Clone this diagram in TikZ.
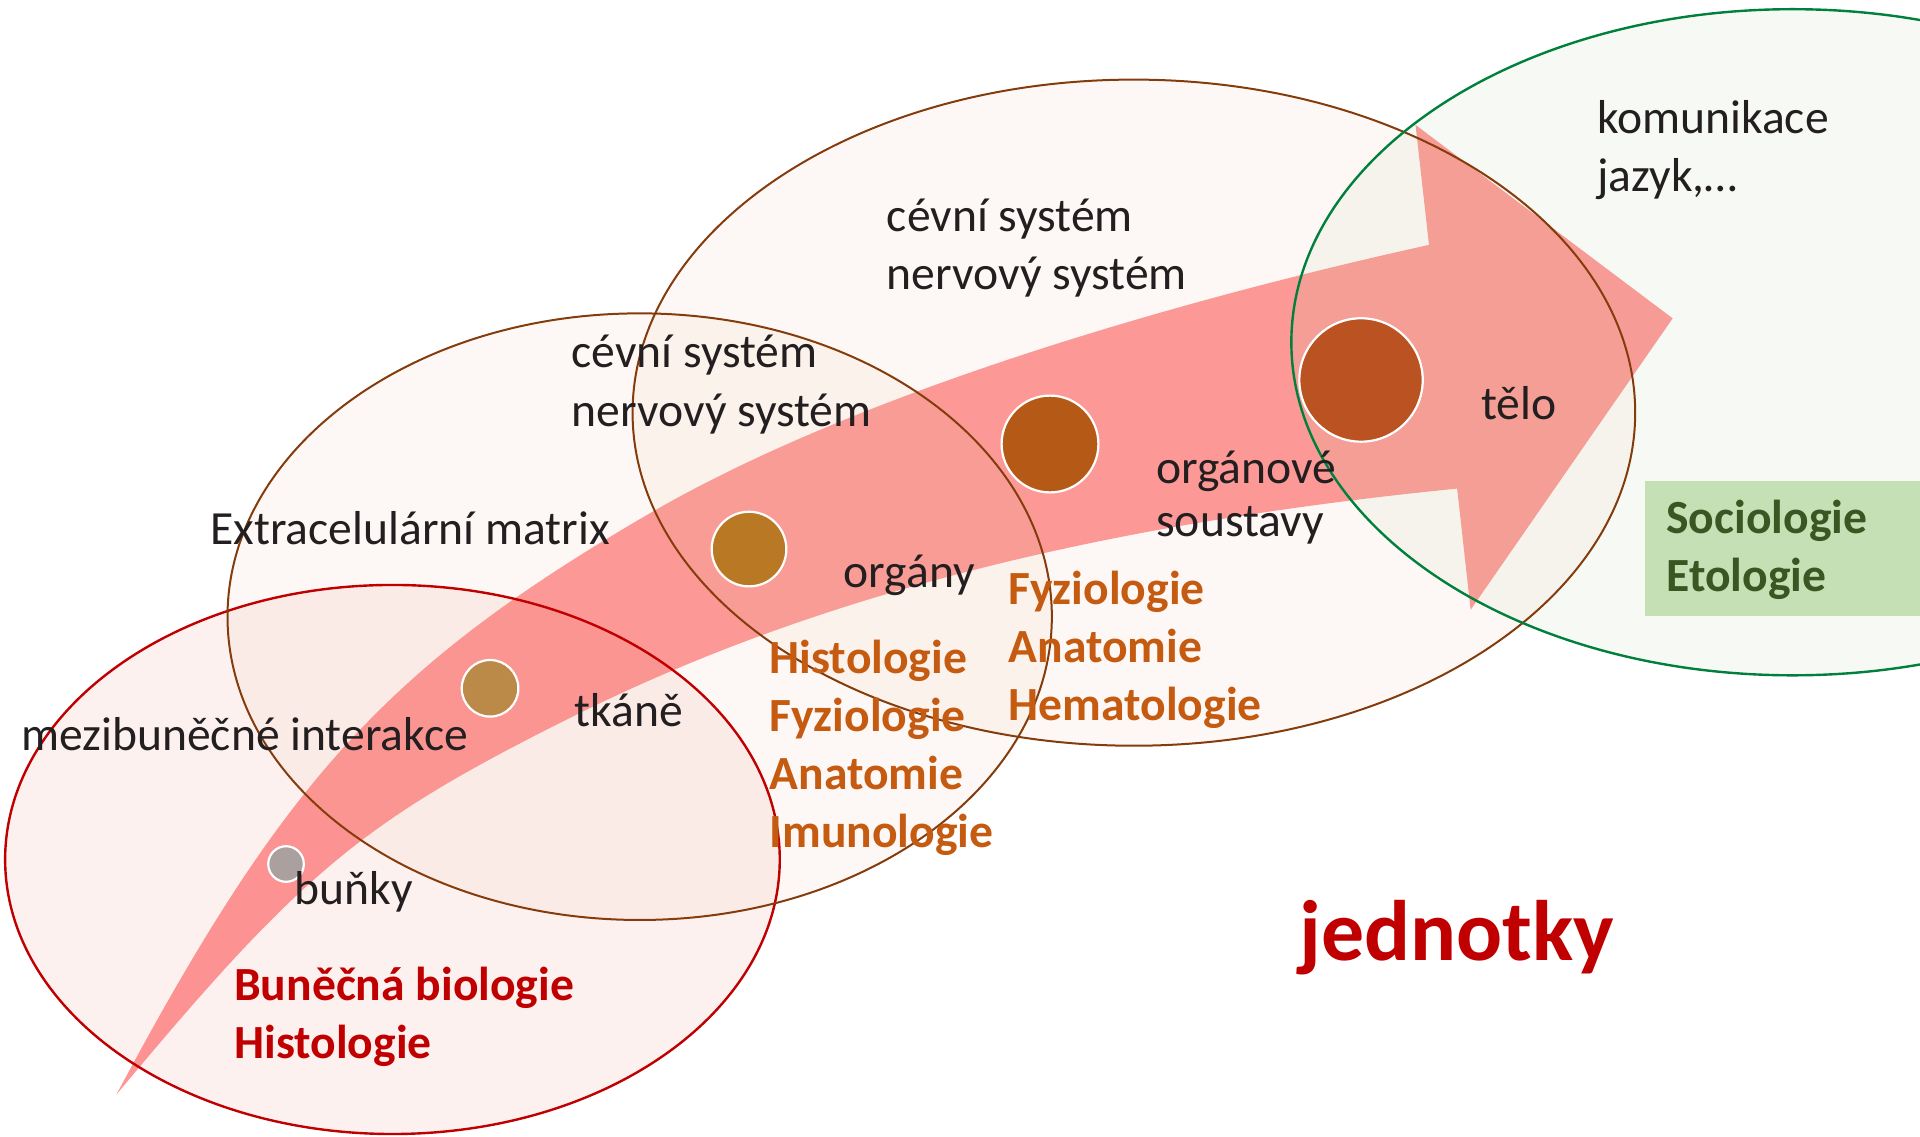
\documentclass[tikz,border=0pt]{standalone}
\usepackage{fontspec}
\setmainfont{Carlito}
\definecolor{redline}{HTML}{C00000}
\definecolor{brownline}{HTML}{843C0C}
\definecolor{greenline}{HTML}{00803C}
\definecolor{redfill}{HTML}{EB7369}
\definecolor{brownfill}{HTML}{EBB99B}
\definecolor{greenfill}{HTML}{AFCD91}
\definecolor{arrowpink}{HTML}{FF9696}
\definecolor{txt}{HTML}{231F20}
\definecolor{orangetxt}{HTML}{C55A11}
\definecolor{redtxt}{HTML}{C00000}
\definecolor{greentxt}{HTML}{385723}
\definecolor{greenbox}{HTML}{C5E0B4}
\definecolor{dotA}{HTML}{ABA0A0}
\definecolor{dotB}{HTML}{BC8A48}
\definecolor{dotC}{HTML}{B87824}
\definecolor{dotD}{HTML}{B55A16}
\definecolor{dotE}{HTML}{BA5222}
\begin{document}
\begin{tikzpicture}[x=0.6122pt, y=-0.6122pt,
  lbl/.style={inner sep=0pt, anchor=base west, text=txt, font=\fontsize{23.8}{28.8}\selectfont},
  blbl/.style={inner sep=0pt, anchor=base west, font=\fontsize{23.8}{28.8}\selectfont\bfseries},
  dot/.style={circle, draw=white, line width=1.1pt, inner sep=0pt},
  ringred/.style={draw=redline, line width=1.2pt},
  ringbrown/.style={draw=brownline, line width=1pt},
  ringgreen/.style={draw=greenline, line width=1.2pt},
  tint/.style={fill opacity=0.1},
]
\useasboundingbox (0,0) rectangle (1568,928);
% arrow
\fill[arrowpink] (95,894) .. controls (231.6,638.2) and (314.75,544.5) .. (531,419)
  .. controls (704,318.6) and (971.6,243) .. (1167,200)
  -- (1156,102) -- (1366,260) -- (1201,498) -- (1190,399)
  .. controls (941.3,423.9) and (691.5,473.25) .. (468,585)
  .. controls (298.1,669.9) and (248.6,709.2) .. (95,894) -- cycle;
% ellipse fills (transparent, over the arrow)
\fill[redfill, tint] (320.5,701.9) ellipse [x radius=316.3, y radius=224.2];
\fill[brownfill, tint] (522.4,503.6) ellipse [x radius=336.6, y radius=247.7];
\fill[brownfill, tint] (926,337) ellipse [x radius=409.4, y radius=272];
\fill[greenfill, tint] (1464,279.5) ellipse [x radius=409.4, y radius=272];
% green box
\fill[greenbox] (1343,392.7) rectangle (1568,503);
% outlines
\draw[ringred] (320.5,701.9) ellipse [x radius=316.3, y radius=224.2];
\draw[ringbrown] (522.4,503.6) ellipse [x radius=336.6, y radius=247.7];
\draw[ringbrown] (926,337) ellipse [x radius=409.4, y radius=272];
\draw[ringgreen] (1464,279.5) ellipse [x radius=409.4, y radius=272];
% dots
\node[dot, fill=dotA, minimum size=17.8pt] (d1) at (233.6,705.6) {};
\node[dot, fill=dotB, minimum size=28.3pt] (d2) at (400.2,562.1) {};
\node[dot, fill=dotC, minimum size=37.3pt] (d3) at (611.7,448.4) {};
\node[dot, fill=dotD, minimum size=48.4pt] (d4) at (857.5,362.6) {};
\node[dot, fill=dotE, minimum size=61.7pt] (d5) at (1111.5,310.3) {};
% black labels
\node[lbl] (k1) at (1304,109) {komunikace};
\node[lbl] (k2) at (1304,156) {jazyk,…};
\node[lbl] (c1) at (724,189.2) {cévní systém};
\node[lbl] (c2) at (724,236.8) {nervový systém};
\node[lbl] (c3) at (466.5,300.3) {cévní systém};
\node[lbl] (c4) at (466.5,347.9) {nervový systém};
\node[lbl] (telo) at (1209.5,342.7) {tělo};
\node[lbl] (os1) at (944,394.7) {orgánové};
\node[lbl] (os2) at (944,438.3) {soustavy};
\node[lbl] (ecm) at (171.5,444.5) {Extracelulární matrix};
\node[lbl] (org) at (688.7,479.7) {orgány};
\node[lbl] (tk) at (468.8,593.4) {tkáně};
\node[lbl] (mi) at (17,612.5) {mezibuněčné interakce};
\node[lbl] (bu) at (240.4,739) {buňky};
% coloured labels
\node[blbl, text=redtxt] (r1) at (191,817.2) {Buněčná biologie};
\node[blbl, text=redtxt] (r2) at (191,864.4) {Histologie};
\node[blbl, text=orangetxt] (o1) at (628.3,549.9) {Histologie};
\node[blbl, text=orangetxt] (o2) at (628.3,597.3) {Fyziologie};
\node[blbl, text=orangetxt] (o3) at (628.3,644.6) {Anatomie};
\node[blbl, text=orangetxt] (o4) at (628.3,691.9) {Imunologie};
\node[blbl, text=orangetxt] (p1) at (823.5,493.5) {Fyziologie};
\node[blbl, text=orangetxt] (p2) at (823.5,540.8) {Anatomie};
\node[blbl, text=orangetxt] (p3) at (823.5,588.1) {Hematologie};
\node[blbl, text=greentxt] (g1) at (1360.6,435.7) {Sociologie};
\node[blbl, text=greentxt] (g2) at (1360.6,483) {Etologie};
\node[inner sep=0pt, anchor=base west, text=redtxt, font=\fontsize{42.9}{50}\selectfont\bfseries] (jed) at (1061,784) {jednotky};
\end{tikzpicture}
\end{document}
